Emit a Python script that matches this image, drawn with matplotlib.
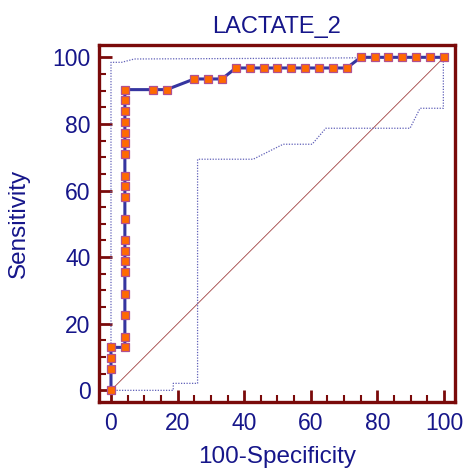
import matplotlib
matplotlib.use("Agg")
import matplotlib.pyplot as plt
from matplotlib.ticker import MultipleLocator

plt.rcParams['font.family'] = ['Liberation Sans', 'DejaVu Sans']

title = "LACTATE_2"
xlabel = "100-Specificity"
ylabel = "Sensitivity"

# ROC curve points (100-Specificity, Sensitivity)
roc_x = [0, 0, 0, 0,
         4.17, 4.17, 4.17, 4.17, 4.17, 4.17, 4.17, 4.17, 4.17, 4.17,
         4.17, 4.17, 4.17, 4.17, 4.17, 4.17, 4.17, 4.17, 4.17,
         12.5, 16.7, 25.0, 29.2, 33.3,
         37.5, 41.7, 45.8, 50.0, 54.2, 58.3, 62.5, 66.7, 70.8,
         75.0, 79.2, 83.3, 87.5, 91.7, 95.8, 100.0]
roc_y = [0, 6.45, 9.68, 12.9,
         12.9, 16.1, 22.6, 29.0, 35.5, 38.7, 41.9, 45.2, 51.6, 58.1,
         61.3, 64.5, 71.0, 74.2, 77.4, 80.6, 83.9, 87.1, 90.3,
         90.3, 90.3, 93.5, 93.5, 93.5,
         96.8, 96.8, 96.8, 96.8, 96.8, 96.8, 96.8, 96.8, 96.8,
         100, 100, 100, 100, 100, 100, 100]

# Confidence bounds
upper_x = [0, 0, 3.2, 7.0, 50.0, 100.0]
upper_y = [0, 98.5, 98.5, 99.5, 99.7, 100.0]
lower_x = [0, 18.7, 18.7, 26.0, 26.0, 42.7, 51.7, 60.4, 64.5, 89.8, 92.8, 99.8, 99.8]
lower_y = [0, 0, 2.1, 2.1, 69.4, 69.4, 73.9, 73.9, 78.7, 78.7, 84.7, 84.7, 100.0]

diag = [0, 100]
xticks = [0, 20, 40, 60, 80, 100]
yticks = [0, 20, 40, 60, 80, 100]

navy = '#16168a'
spine_c = '#7a0a0a'

fig = plt.figure(figsize=(4.67, 4.72), dpi=100)
ax = fig.add_axes([99/467, 1-402/472, (455-99)/467, (402-45)/472])

ax.plot(diag, diag, color='#a04040', lw=0.6, zorder=1)
ax.plot(upper_x, upper_y, color='#6060b8', lw=0.9, ls=(0, (1, 1.2)), zorder=2)
ax.plot(lower_x, lower_y, color='#6060b8', lw=0.9, ls=(0, (1, 1.2)), zorder=2)
ax.plot(roc_x, roc_y, color='#3535a0', lw=2.2, marker='s', ms=5.8,
        mfc='#ff6a00', mec='#b05090', mew=0.9, zorder=3)

ax.set_xlim(-3.6, 103.3)
ax.set_ylim(-3.5, 103.7)
ax.set_xticks(xticks)
ax.set_yticks(yticks)
ax.xaxis.set_minor_locator(MultipleLocator(5))
ax.yaxis.set_minor_locator(MultipleLocator(5))

for s in ax.spines.values():
    s.set_color(spine_c)
    s.set_linewidth(2.4)

ax.tick_params(which='major', direction='in', length=9, width=2.0, color=spine_c,
               labelsize=16.5, labelcolor=navy)
ax.tick_params(axis='x', which='major', pad=7)
ax.tick_params(axis='y', which='major', pad=6)
ax.tick_params(which='minor', direction='in', length=5, width=1.5, color=spine_c)

ax.set_title(title, fontsize=17, color=navy, pad=9)
ax.set_xlabel(xlabel, fontsize=17.5, color=navy, labelpad=8)
ax.set_ylabel(ylabel, fontsize=17.5, color=navy, labelpad=16)

fig.savefig('out.png', dpi=100)
